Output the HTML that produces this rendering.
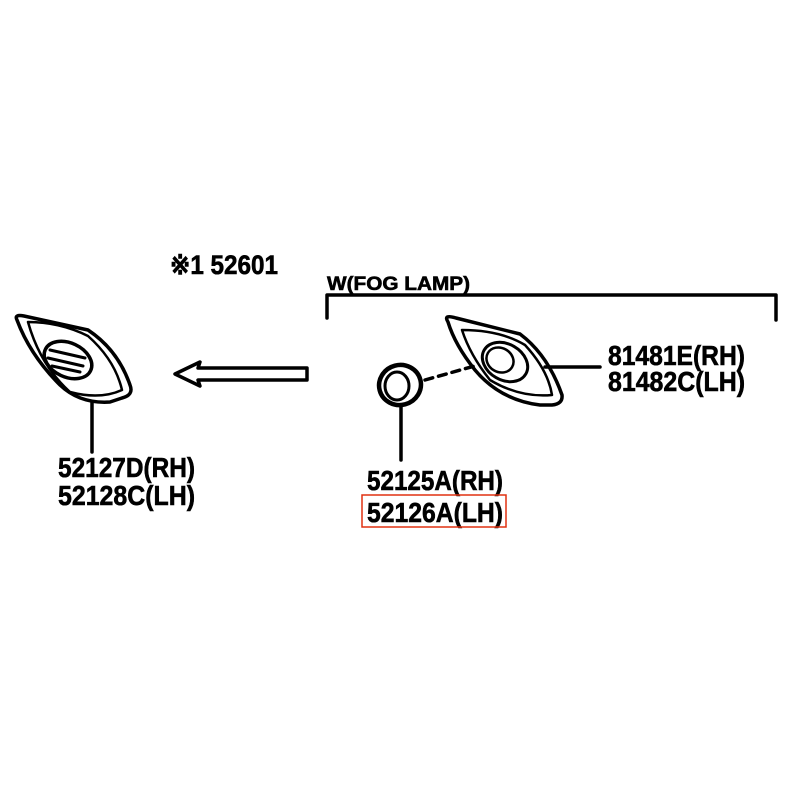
<!DOCTYPE html>
<html><head><meta charset="utf-8"><style>html,body{margin:0;padding:0;background:#fff}</style></head>
<body>
<svg width="800" height="800" viewBox="0 0 800 800" xmlns="http://www.w3.org/2000/svg">
<rect width="800" height="800" fill="#fff"/>
<g font-family="Liberation Sans Narrow, Liberation Sans, sans-serif" font-weight="bold" fill="#000" stroke="#000" stroke-width="0.6">
<text x="170" y="274" font-size="27" textLength="108" lengthAdjust="spacingAndGlyphs">※1 52601</text>
<text x="327" y="290" font-size="19" textLength="143" lengthAdjust="spacingAndGlyphs">W(FOG LAMP)</text>
<text x="58" y="477" font-size="28" textLength="137" lengthAdjust="spacingAndGlyphs">52127D(RH)</text>
<text x="58" y="505" font-size="28" textLength="137" lengthAdjust="spacingAndGlyphs">52128C(LH)</text>
<text x="367" y="490" font-size="28" textLength="136" lengthAdjust="spacingAndGlyphs">52125A(RH)</text>
<text x="367" y="522" font-size="28" textLength="136" lengthAdjust="spacingAndGlyphs">52126A(LH)</text>
<text x="608" y="365" font-size="28" textLength="137" lengthAdjust="spacingAndGlyphs">81481E(RH)</text>
<text x="608" y="391" font-size="28" textLength="137" lengthAdjust="spacingAndGlyphs">81482C(LH)</text>
</g>
<rect x="362" y="495" width="144" height="32" fill="none" stroke="#e03010" stroke-width="1.5"/>
<g fill="none" stroke="#000" stroke-width="3.5" stroke-linejoin="round" stroke-linecap="round">
<path d="M327 318 V295 H776 V320"/>
<!-- left lamp -->
<path d="M17 320 Q14 314 24 316 L88 330 Q118 350 130 385 Q134 395 122 398 L110 402 Q80 404 60 385 Q30 355 17 320 Z"/>
<path d="M28 322 Q60 322 88 336 Q115 360 122 390 Q100 400 70 392 Q40 365 28 322 Z" stroke-width="2.5"/>
<ellipse cx="68" cy="360" rx="25" ry="17" transform="rotate(25 68 360)"/>
<path d="M50 350 L85 358 M48 358 L83 366 M52 366 L80 372" stroke-width="3"/>
<path d="M92 402 V452"/>
<!-- arrow -->
<path d="M307 368 H198 L200 362 L175 374 L200 386 L198 380 H307 Z"/>
<!-- ring -->
<ellipse cx="400" cy="385" rx="21" ry="20" transform="rotate(-15 400 385)" stroke-width="4.5"/>
<ellipse cx="397" cy="386" rx="12" ry="14" stroke-width="3"/>
<path d="M401 405 V460"/>
<path d="M425 380 L478 365" stroke-dasharray="8 6"/>
<!-- right lamp -->
<path d="M448 322 Q443 314 456 318 L520 334 Q548 355 562 395 Q563 404 552 405 L540 405 Q500 400 475 370 Q455 345 448 322 Z"/>
<path d="M462 330 Q500 330 525 345 Q548 370 552 395 Q520 398 490 380 Q470 355 462 330 Z" stroke-width="2.5"/>
<ellipse cx="505" cy="362" rx="24" ry="18" transform="rotate(30 505 362)" stroke-width="3"/>
<ellipse cx="500" cy="360" rx="14" ry="12" transform="rotate(30 500 360)" stroke-width="2.5"/>
<path d="M545 367 H600"/>
</g>
</svg>
</body></html>
